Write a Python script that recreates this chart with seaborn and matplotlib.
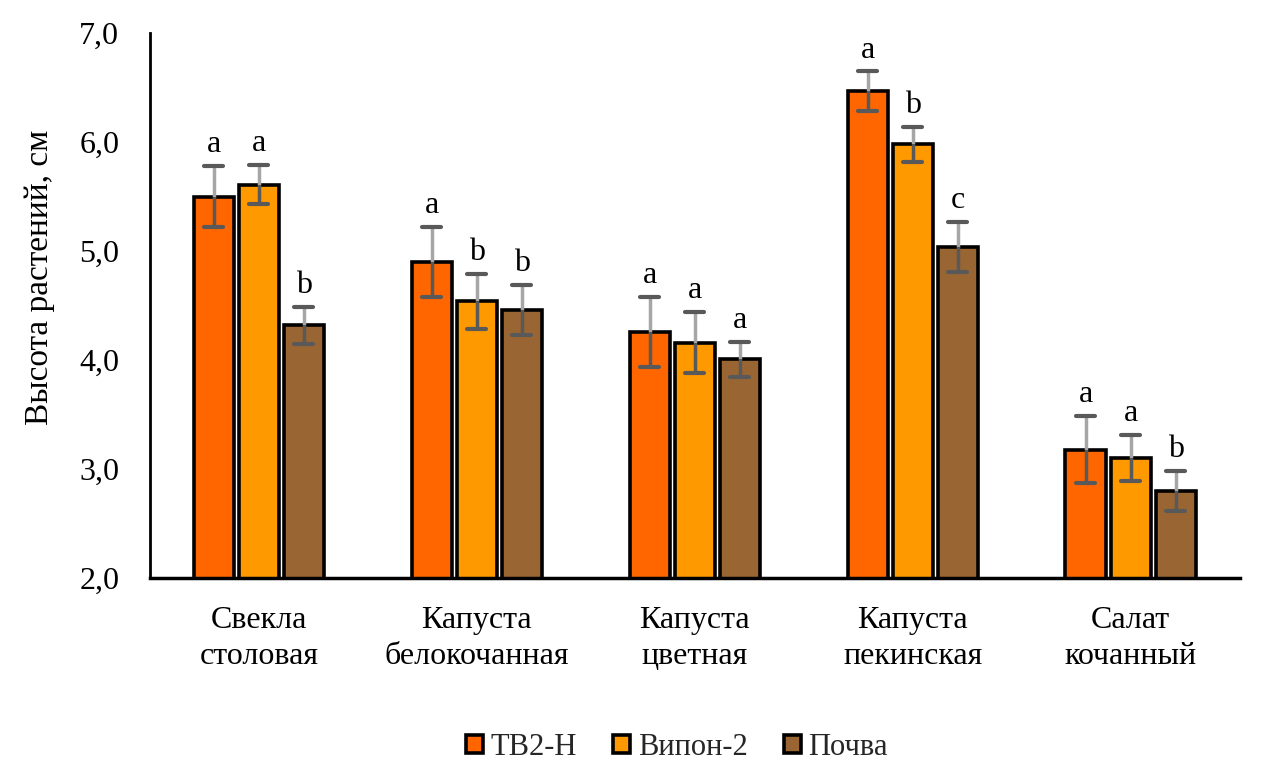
import matplotlib
matplotlib.use("Agg")
import matplotlib.pyplot as plt
import seaborn as sns
import pandas as pd
import numpy as np
from matplotlib.ticker import FuncFormatter
from matplotlib.patches import Patch

categories = ["Свекла\nстоловая", "Капуста\nбелокочанная", "Капуста\nцветная",
              "Капуста\nпекинская", "Салат\nкочанный"]
series = ["ТВ2-Н", "Випон-2", "Почва"]
tv2n = [5.50, 4.90, 4.26, 6.47, 3.18]
vipon = [5.61, 4.54, 4.16, 5.98, 3.10]
pochva = [4.32, 4.46, 4.01, 5.04, 2.80]
tv2n_err = [0.28, 0.32, 0.32, 0.18, 0.31]
vipon_err = [0.18, 0.25, 0.28, 0.16, 0.21]
pochva_err = [0.17, 0.23, 0.16, 0.23, 0.18]
letters_tv2n = ["a", "a", "a", "a", "a"]
letters_vipon = ["a", "b", "a", "b", "a"]
letters_pochva = ["b", "b", "a", "c", "b"]
colors = ["#FF6600", "#FF9900", "#996633"]
y_ticks = [2.0, 3.0, 4.0, 5.0, 6.0, 7.0]
y_label = "Высота растений, см"

values = [tv2n, vipon, pochva]
errs = [tv2n_err, vipon_err, pochva_err]
letters = [letters_tv2n, letters_vipon, letters_pochva]

df = pd.DataFrame({
    "cat": np.repeat([categories], 3, axis=0).ravel(),
    "series": np.repeat(series, len(categories)),
    "val": np.concatenate(values),
})

sns.set_theme(style="white")
plt.rcParams["font.family"] = ["Liberation Serif", "DejaVu Serif"]

fig = plt.figure(figsize=(12.7, 7.75), dpi=100)
ax = fig.add_axes([0.118, 0.254, 0.858, 0.703])

sns.barplot(data=df, x="cat", y="val", hue="series", order=categories,
            hue_order=series, palette=colors, width=0.62, gap=0.11,
            edgecolor="black", linewidth=2.6, errorbar=None, legend=False,
            saturation=1, ax=ax)

for i, cont in enumerate(ax.containers):
    for j, bar in enumerate(cont):
        xc = bar.get_x() + bar.get_width() / 2
        v = values[i][j]
        e = errs[i][j]
        # upper half lighter, lower half darker
        ax.plot([xc, xc], [v, v + e], color="#A6A6A6", lw=2.5, zorder=4, solid_capstyle="butt")
        ax.plot([xc, xc], [v - e, v], color="#595959", lw=2.5, zorder=4, solid_capstyle="butt")
        cw = bar.get_width() * 0.24
        ax.plot([xc - cw, xc + cw], [v + e, v + e], color="#595959", lw=3, zorder=5)
        ax.plot([xc - cw, xc + cw], [v - e, v - e], color="#595959", lw=3, zorder=5)
        ax.annotate(letters[i][j], (xc, v + e), xytext=(0, 5), textcoords="offset points",
                    ha="center", va="bottom", fontsize=23, color="black", zorder=6)

ax.set_ylim(2.0, 7.0)
ax.set_xlim(-0.5, 4.5)
ax.set_yticks(y_ticks)
ax.yaxis.set_major_formatter(FuncFormatter(lambda v, p: f"{v:.1f}".replace(".", ",")))
ax.tick_params(axis="both", length=0, labelsize=23, colors="black")
ax.tick_params(axis="y", pad=22)
ax.tick_params(axis="x", pad=20)
ax.set_xlabel("")
ax.set_ylabel("")
fig.text(40 / 1270, 1 - 277 / 775, y_label, rotation=90, ha="center", va="center",
         fontsize=24, color="black")
for lab in ax.get_xticklabels():
    lab.set_linespacing(1.3)

for s in ["top", "right"]:
    ax.spines[s].set_visible(False)
ax.spines["left"].set_color("black")
ax.spines["left"].set_linewidth(2)
ax.spines["bottom"].set_color("black")
ax.spines["bottom"].set_linewidth(2.5)
ax.grid(False)

handles = [Patch(facecolor=c, edgecolor="black", linewidth=2.6) for c in colors]
fig.legend(handles, series, loc="center", bbox_to_anchor=(0.533, 0.036), ncol=3,
           frameon=False, fontsize=22, handlelength=0.55, handleheight=0.55,
           handletextpad=0.25, columnspacing=1.2)

fig.savefig("out.png", dpi=100)
